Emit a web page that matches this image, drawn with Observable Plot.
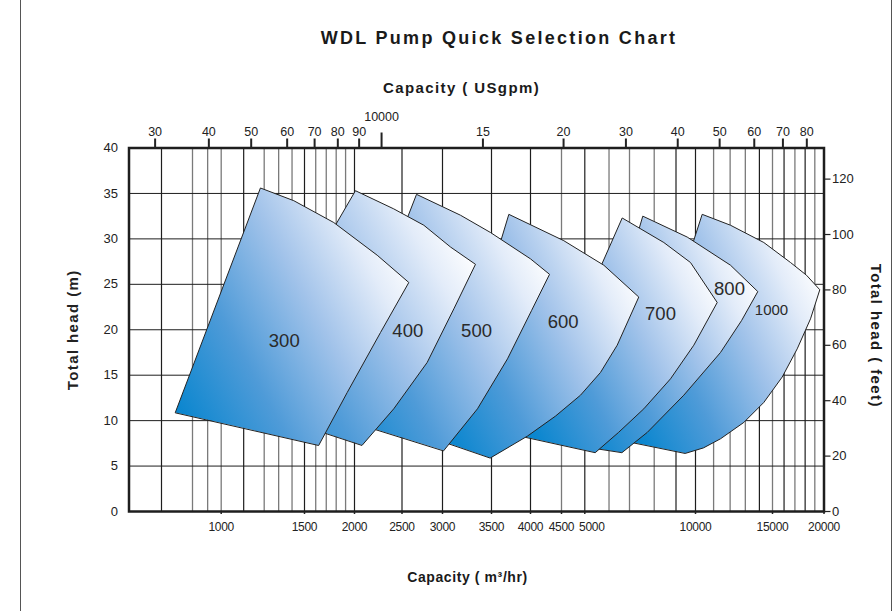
<!DOCTYPE html>
<html><head><meta charset="utf-8">
<script src="https://cdn.jsdelivr.net/npm/d3@7"></script>
<script src="https://cdn.jsdelivr.net/npm/@observablehq/plot@0.6"></script>
<style>
body{margin:0;background:#fff;}
#wrap{position:relative;width:896px;height:611px;overflow:hidden;font-family:"Liberation Sans",Arial,sans-serif;background:#fff;}
#title{height:64px;box-sizing:border-box;padding-top:28px;padding-left:102px;text-align:center;font-weight:bold;font-size:18px;line-height:20px;letter-spacing:2.3px;color:#1a1a1a;}
.vline{position:absolute;top:0;bottom:0;width:1px;background:#555;}
g[aria-label="y-axis label"] text, .axtitle text{font-weight:bold;font-size:15px;letter-spacing:1.4px;}
.axtitle-b text{font-weight:bold;font-size:14px;letter-spacing:0.6px;}
.bticks text{letter-spacing:-0.3px;}
</style></head>
<body>
<div id="wrap">
<div class="vline" style="left:20px"></div>
<div class="vline" style="left:891px"></div>
<div id="title">WDL Pump Quick Selection Chart</div>
<div id="chart"></div>
</div>
<script>
// ---- data (capacity in m3/hr, head in m) ----
const GPM_PER_M3H = 4.403;
const FT_PER_M = 1 / 0.3048;

const bottomTicks = [1000, 1500, 2000, 2500, 3000, 3500, 4000, 4500, 5000, 10000, 15000, 20000];
const bottomTickShifted = [5000]; // label printed slightly right of its tick in the original
const gridDark = [700, 1100, 1500, 2000, 2500, 3000, 3500, 4000, 5000, 9000, 10000, 14000, 16000, 18000];
const gridLight = [800, 900, 1000, 1200, 1300, 1400, 1600, 1700, 1800, 1900, 4500, 6000, 7000, 8000, 11000, 12000, 13000, 15000, 17000, 19000];
const topTicksGpm = [3000, 4000, 5000, 6000, 7000, 8000, 9000, 15000, 20000, 30000, 40000, 50000, 60000, 70000, 80000];
const topTickLabels = ["30", "40", "50", "60", "70", "80", "90", "15", "20", "30", "40", "50", "60", "70", "80"];
const topMajorGpm = [10000];
const topMajorLabels = ["10000"];
const headTicksM = [0, 5, 10, 15, 20, 25, 30, 35, 40];
const headGridM = [5, 10, 15, 20, 25, 30, 35];
const headTicksFt = [0, 20, 40, 60, 80, 100, 120];

const pump300 = [[743, 10.9], [1181, 35.6], [1414, 34.2], [1775, 31.8], [2225, 28.2], [2578, 25.2], [2260, 19.7], [1918, 13.1], [1629, 7.3]];
const pump400 = [[1049, 12.0], [2009, 35.3], [2405, 33.3], [2758, 31.5], [3077, 29.1], [3328, 27.2], [3109, 22.3], [2800, 16.4], [2405, 11.3], [2074, 7.3]];
const pump500 = [[1742, 10.6], [2669, 34.9], [3175, 32.6], [3489, 30.7], [4000, 27.8], [4300, 26.1], [4015, 22.1], [3697, 16.8], [3349, 11.3], [3012, 6.7]];
const pump600 = [[2973, 7.8], [3714, 32.7], [4547, 29.8], [5769, 27.1], [7360, 23.6], [6381, 18.3], [5627, 15.3], [4904, 12.8], [4399, 10.5], [3959, 8.3], [3489, 5.9]];
const pump700 = [[3932, 8.2], [6626, 32.3], [8426, 29.6], [9733, 27.4], [11211, 23.0], [9909, 18.3], [8737, 14.6], [7563, 11.3], [6444, 8.7], [5419, 6.5]];
const pump800 = [[4794, 7.3], [7521, 32.5], [9561, 30.2], [12024, 27.1], [13883, 24.2], [12741, 21.0], [11407, 17.5], [9388, 12.8], [7703, 8.7], [6626, 6.5]];
const pump1000 = [[6948, 7.7], [10359, 32.7], [12024, 31.5], [14329, 29.6], [16587, 27.4], [18137, 26.0], [19536, 24.4], [18548, 21.2], [17220, 17.9], [15836, 14.8], [14329, 12.0], [12896, 9.8], [11407, 8.0], [10430, 7.0], [9474, 6.4]];

const pumpNames = ["300", "400", "500", "600", "700", "800", "1000"];
const pumpLabelCapacity = [1341, 2566, 3339, 4535, 8277, 11961, 14921];
const pumpLabelHead = [18.8, 19.9, 19.9, 20.8, 21.7, 24.5, 22.1];

// ---- scale configuration (hand-drawn log axis, piecewise) ----
const xKnots = [610, 700, 800, 1000, 1200, 1500, 2000, 2500, 3000, 3500, 4000, 4500, 5000, 7000, 10000, 15000, 20000];
const xKnotPx = [128.5, 161, 192, 220.7, 263.7, 304, 354, 401.5, 442, 491, 530, 561, 584.3, 629, 695, 772, 823.5];

const pumps = [pump1000, pump800, pump700, pump600, pump500, pump400, pump300]; // back to front
const labels = pumpNames.map((n, i) => ({name: n, x: pumpLabelCapacity[i], y: pumpLabelHead[i]}));

const topTicksM3 = topTicksGpm.map(g => g / GPM_PER_M3H);
const topTickData = topTicksM3.map((v, i) => ({x: v, label: topTickLabels[i]}));
const topMajorM3 = topMajorGpm.map(g => g / GPM_PER_M3H);
const topMajorData = topMajorM3.map((v, i) => ({x: v, label: topMajorLabels[i]}));
const feetTicksM = headTicksFt.map(f => f / FT_PER_M);
const nearestLabel = (vals, labs) => d => {
  let bi = 0;
  vals.forEach((v, i) => { if (Math.abs(v - d) < Math.abs(vals[bi] - d)) bi = i; });
  return labs[bi];
};

const gradientDefs = () => {
  const defs = d3.create("svg:defs");
  const g = defs.append("linearGradient").attr("id", "pumpGrad")
    .attr("x1", 0).attr("y1", 0.85).attr("x2", 1).attr("y2", 0.25);
  [[0, "#0a86cf"], [0.3, "#4f9bd8"], [0.6, "#a2c3ea"], [0.85, "#e3ecf9"], [1, "#ffffff"]]
    .forEach(([o, c]) => g.append("stop").attr("offset", o).attr("stop-color", c));
  return defs.node();
};

const chart = Plot.plot({
  width: 896, height: 547,
  marginTop: 83.5, marginBottom: 100, marginLeft: 128.5, marginRight: 72.5,
  style: {fontFamily: '"Liberation Sans", Arial, sans-serif', fontSize: "12px", color: "#222", background: "white", overflow: "visible"},
  x: {type: "log", domain: xKnots, range: xKnotPx},
  y: {domain: [0, 40]},
  marks: [
    gradientDefs,
    Plot.ruleX(gridLight, {stroke: "#7a7a7a", strokeWidth: 1.3}),
    Plot.ruleX(gridDark, {stroke: "#1e1e1e", strokeWidth: 1.2}),
    Plot.ruleY(headGridM, {stroke: "#1e1e1e", strokeWidth: 1}),
    ...pumps.map(p => Plot.line(p, {x: d => d[0], y: d => d[1], curve: "linear-closed", fill: "url(#pumpGrad)", stroke: "#222", strokeWidth: 1})),
    Plot.text(labels, {x: "x", y: "y", text: "name", fontSize: d => d.name === "1000" ? 15 : 18.5, fill: "#2a2a2a"}),
    Plot.frame({stroke: "#1e1e1e", strokeWidth: 2.5}),
    Plot.axisX({anchor: "bottom", ticks: bottomTicks, tickFormat: d => bottomTickShifted.includes(d) ? "" : String(d), tickSize: 3, tickPadding: 8, fontSize: 12, strokeWidth: 1.5, label: null, className: "bticks"}),
    Plot.text(bottomTickShifted, {x: d => d, text: d => String(d), frameAnchor: "bottom", lineAnchor: "top", dx: 7, dy: 11, fontSize: 12, fill: "#222", className: "bticks"}),
    Plot.axisX({anchor: "top", ticks: topTicksM3, tickFormat: () => "", tickSize: 10, strokeWidth: 2, label: null}),
    Plot.text(topTickData, {x: "x", text: "label", frameAnchor: "top", lineAnchor: "middle", dy: -16, fontSize: 12.5, fill: "#222"}),
    Plot.axisX({anchor: "top", ticks: topMajorM3, tickFormat: () => "", tickSize: 16, strokeWidth: 2, label: null}),
    Plot.text(topMajorData, {x: "x", text: "label", frameAnchor: "top", lineAnchor: "middle", dy: -31, fontSize: 12.5, fill: "#222"}),
    Plot.axisY({anchor: "left", ticks: headTicksM, tickSize: 0, tickPadding: 11, fontSize: 13,
      label: "Total head (m)", labelAnchor: "center", labelOffset: 62, labelArrow: "none"}),
    Plot.axisY({anchor: "right", ticks: feetTicksM, tickFormat: nearestLabel(feetTicksM, headTicksFt.map(String)), tickSize: 6, tickPadding: 2, fontSize: 13, strokeWidth: 1.2, label: null}),
    Plot.text(["Capacity ( USgpm)"], {text: d => d, frameAnchor: "top", textAnchor: "middle", lineAnchor: "middle", dx: -15, dy: -59.5, fill: "#1a1a1a", className: "axtitle"}),
    Plot.text(["Capacity ( m³/hr)"], {text: d => d, frameAnchor: "bottom", textAnchor: "middle", lineAnchor: "middle", dx: -9, dy: 66, fill: "#1a1a1a", className: "axtitle-b"}),
    Plot.text(["Total head ( feet)"], {text: d => d, frameAnchor: "right", textAnchor: "middle", lineAnchor: "middle", dx: 52, dy: 6, rotate: 90, fill: "#1a1a1a", className: "axtitle"})
  ]
});
document.getElementById("chart").appendChild(chart);
</script>
</body></html>
